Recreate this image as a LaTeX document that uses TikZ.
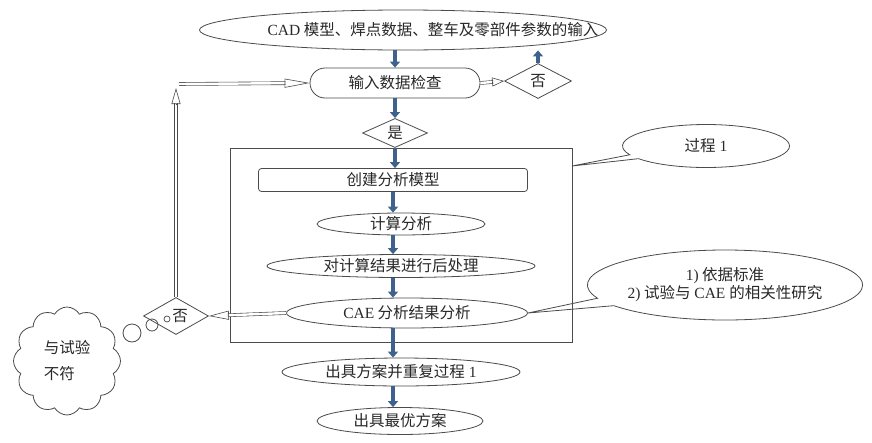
\documentclass[tikz,border=0pt]{standalone}
\usepackage{fontspec}
\setmainfont{Noto Sans CJK SC}
\newfontfamily\lat{Liberation Serif}
\usetikzlibrary{shapes.geometric,shapes.misc,shapes.callouts,shapes.symbols,arrows.meta,calc}
\definecolor{ln}{RGB}{75,75,75}
\definecolor{txt}{RGB}{40,40,40}
\definecolor{blu}{RGB}{62,98,140}
\newcommand{\hollowarr}[3][14]{%
  \draw[hline, shorten >=#1pt-1pt] (#2) -- (#3);
  \draw[htip, -{Triangle[open,length=#1pt,width=9pt]}] ($(#3)!#1pt!(#2)$) -- (#3);}
\begin{document}
\begin{tikzpicture}[x=1pt,y=-1pt,
  shp/.style={draw=ln, line width=0.8pt, inner sep=0pt, text=txt, font=\fontsize{15.5}{18}\selectfont},
  ell/.style={shp, ellipse},
  dia/.style={shp, diamond},
  barrow/.style={draw=blu, line width=4pt, -{Triangle[length=6pt,width=10pt]}},
  hline/.style={draw=ln, line width=0.6pt, double=white, double distance=2.4pt},
  htip/.style={draw=ln, line width=0.6pt},
  plain/.style={text=txt, inner sep=0pt, font=\fontsize{15.5}{18}\selectfont}
]
\useasboundingbox (0,0) rectangle (872,442);
\fill[white] (0,0) rectangle (872,442);

% main column
\node[ell, minimum width=407, minimum height=40] (top) at (403,30) {};
\node[plain] (toptext) at (433,30) {{\lat CAD} 模型、焊点数据、整车及零部件参数的输入};
\node[shp, rounded rectangle, minimum width=170, minimum height=30] (check) at (395,83) {输入数据检查};
\node[dia, minimum width=67, minimum height=35] (no1) at (538,81) {否};
\node[dia, minimum width=65, minimum height=27] (yes) at (395,133) {是};

\node[draw=ln, line width=0.8pt, minimum width=342, minimum height=194, inner sep=0pt] (frame) at (401,245) {};

\node[shp, rectangle, rounded corners=3pt, minimum width=269, minimum height=23] (create) at (393,180) {创建分析模型};
\node[ell, minimum width=168, minimum height=22] (calc) at (401,224) {计算分析};
\node[ell, minimum width=268, minimum height=23] (post) at (401,266) {对计算结果进行后处理};
\node[ell, minimum width=241, minimum height=30] (cae) at (407,313) {{\lat CAE} 分析结果分析};
\node[ell, minimum width=238, minimum height=28] (rep) at (401,372) {出具方案并重复过程{\lat\ 1}};
\node[ell, minimum width=166, minimum height=27] (best) at (400,421) {出具最优方案};

% callouts
\coordinate (p1) at (572,166);
\node[shp, ellipse callout, minimum width=167, minimum height=43, callout absolute pointer={(p1)}, callout pointer arc=12] (c1) at (706,146) {过程{\lat\ 1}};
\node[shp, ellipse callout, minimum width=274, minimum height=70, align=center, callout absolute pointer={(cae.east)}, callout pointer arc=14] (c2) at (725,285) {{\lat 1)} 依据标准\\{\lat 2)} 试验与{\lat\ CAE }的相关性研究};

% left branch
\node[dia, minimum width=65, minimum height=37] (no2) at (176,316) {\hspace{8pt}否};
\node[shp, cloud, cloud puffs=12, cloud puff arc=120, aspect=1, minimum width=107, minimum height=108, align=left] (cloud) at (67,361) {与试验\\[8pt]不符};
\node[draw=ln, line width=0.8pt, circle, minimum size=18, inner sep=0pt] (b1) at (132,333) {};
\node[draw=ln, line width=0.8pt, circle, minimum size=12, inner sep=0pt] (b2) at (152,325) {};
\node[draw=ln, line width=0.7pt, circle, minimum size=6, inner sep=0pt] (b3) at (167,319) {};

\coordinate (upend) at (176,88);
\coordinate (hstart) at (179,84);

% thick arrows
\draw[barrow] (check.north |- top.south) -- (check.north);
\draw[barrow] (no1.north) -- (no1.north |- top.south);
\draw[barrow] (check.south) -- (yes.north);
\draw[barrow] (yes.south) -- (yes.south |- create.north);
\draw[barrow] (create.south) -- (create.south |- calc.north);
\draw[barrow] (create.south |- calc.south) -- (create.south |- post.north);
\draw[barrow] (create.south |- post.south) -- (create.south |- cae.north);
\draw[barrow] (create.south |- cae.south) -- (create.south |- rep.north);
\draw[barrow] (create.south |- rep.south) -- (create.south |- best.north);

% hollow arrows
\hollowarr[12]{check.east}{no1.west}
\hollowarr[20]{cae.west}{no2.east}
\hollowarr[16]{no2.north}{upend}
\hollowarr[25]{hstart}{check.west}
\end{tikzpicture}
\end{document}
